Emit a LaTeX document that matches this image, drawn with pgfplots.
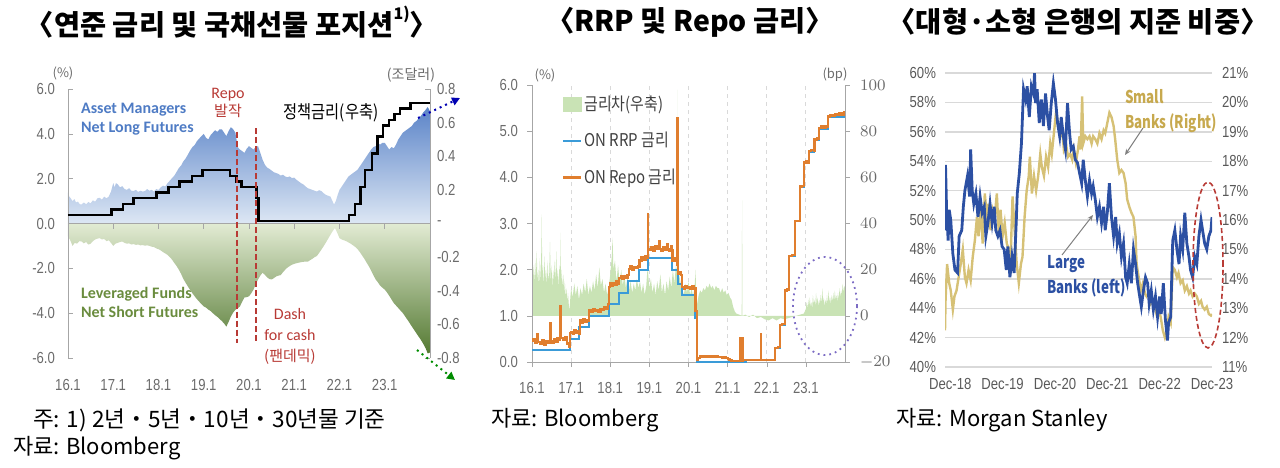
\documentclass[border=0pt]{standalone}
\usepackage{fontspec}
\setmainfont{Liberation Sans}
\newfontfamily\kr{Noto Sans CJK KR}
\newfontfamily\krn{Noto Sans CJK KR}[FakeStretch=0.85]
\newfontfamily\krc{Noto Sans CJK KR}[FakeStretch=0.76]
\newfontfamily\nar{Liberation Sans}[FakeStretch=0.82]
\newfontfamily\carl{Carlito}
\usepackage{pgfplots}
\pgfplotsset{compat=1.18}
\usetikzlibrary{arrows.meta}
\definecolor{amTop}{HTML}{5B84C8}
\definecolor{amBot}{HTML}{DDE7F4}
\definecolor{lfTop}{HTML}{E2EBD3}
\definecolor{lfBot}{HTML}{557A33}
\definecolor{dred}{HTML}{B83A35}
\definecolor{amtext}{HTML}{4E7BC4}
\definecolor{lftext}{HTML}{6A8C3E}
\definecolor{tickgray}{HTML}{6B6B6B}
\definecolor{axgray}{HTML}{A6A6A6}
\definecolor{rrpblue}{HTML}{3A9BD8}
\definecolor{repoorg}{HTML}{E07E2E}
\definecolor{sprgreen}{HTML}{C9E3B5}
\definecolor{lgdtext}{HTML}{404040}
\definecolor{ellpurple}{HTML}{7C6CC4}
\definecolor{lbblue}{HTML}{2C50A3}
\definecolor{sbtan}{HTML}{D6C176}
\definecolor{sbtext}{HTML}{C7A94E}
\definecolor{gridgray}{HTML}{D9D9D9}
\pgfplotsset{
  tl/.style={font=\nar\fontsize{8}{9}\selectfont, text=tickgray},
}
\begin{document}
\begin{tikzpicture}
\useasboundingbox (0,0) rectangle (640pt,233.5pt);

% ================= Panel 1 =================
\begin{axis}[at={(34pt,54.5pt)}, anchor=south west, scale only axis,
  width=181pt, height=134.5pt, xmin=0, xmax=8, ymin=-0.8, ymax=0.8,
  axis y line*=right, axis x line=none,
  y axis line style={-, draw=axgray}, ytick style={draw=axgray},
  tick align=inside, major tick length=2.5pt,
  ytick={-0.8,-0.6,-0.4,-0.2,0,0.2,0.4,0.6,0.8},
  yticklabels={-0.8,-0.6,-0.4,-0.2,-,0.2,0.4,0.6,0.8},
  yticklabel style={tl}]
\addplot[draw=none, top color=amTop, bottom color=amBot] coordinates {
(0.00,0) (0.00,0.183) (0.03,0.160) (0.06,0.150) (0.10,0.133) (0.14,0.145) (0.18,0.125) (0.22,0.130) (0.26,0.115) (0.30,0.113)
(0.35,0.125) (0.40,0.115) (0.45,0.128) (0.50,0.120) (0.55,0.138) (0.60,0.130) (0.65,0.150) (0.70,0.153) (0.75,0.142) (0.80,0.160)
(0.85,0.150) (0.90,0.160) (0.95,0.190) (1.00,0.240) (1.03,0.215) (1.06,0.240) (1.10,0.233) (1.15,0.215) (1.20,0.222) (1.25,0.205)
(1.30,0.200) (1.35,0.210) (1.40,0.195) (1.45,0.193) (1.50,0.200) (1.55,0.188) (1.60,0.195) (1.65,0.190) (1.70,0.193) (1.75,0.205)
(1.80,0.195) (1.85,0.200) (1.90,0.190) (1.95,0.205) (2.00,0.200) (2.05,0.215) (2.10,0.225) (2.15,0.220) (2.20,0.240) (2.25,0.255)
(2.30,0.270) (2.35,0.285) (2.40,0.307) (2.45,0.330) (2.50,0.345) (2.55,0.370) (2.60,0.387) (2.65,0.410) (2.70,0.435) (2.75,0.455)
(2.80,0.467) (2.85,0.490) (2.90,0.505) (2.95,0.520) (3.00,0.533) (3.05,0.510) (3.10,0.500) (3.15,0.525) (3.20,0.540) (3.25,0.555)
(3.30,0.545) (3.35,0.560) (3.40,0.560) (3.45,0.540) (3.50,0.520) (3.55,0.550) (3.60,0.573) (3.65,0.560) (3.70,0.540) (3.73,0.490)
(3.76,0.450) (3.80,0.440) (3.85,0.430) (3.90,0.420) (3.95,0.445) (4.00,0.460) (4.05,0.450) (4.10,0.440) (4.15,0.455) (4.20,0.460)
(4.25,0.420) (4.30,0.380) (4.35,0.350) (4.40,0.333) (4.45,0.325) (4.50,0.315) (4.55,0.305) (4.60,0.300) (4.65,0.295) (4.70,0.285)
(4.75,0.290) (4.80,0.280) (4.85,0.275) (4.90,0.280) (4.95,0.270) (5.00,0.273) (5.05,0.260) (5.10,0.250) (5.15,0.240) (5.20,0.233)
(5.25,0.220) (5.30,0.210) (5.35,0.205) (5.40,0.200) (5.45,0.195) (5.50,0.190) (5.55,0.198) (5.60,0.193) (5.65,0.180) (5.70,0.170)
(5.75,0.165) (5.80,0.160) (5.85,0.130) (5.88,0.113) (5.92,0.135) (5.96,0.170) (6.00,0.200) (6.05,0.220) (6.10,0.240) (6.15,0.260)
(6.20,0.280) (6.25,0.290) (6.30,0.300) (6.35,0.310) (6.40,0.320) (6.45,0.340) (6.50,0.360) (6.55,0.380) (6.60,0.400) (6.65,0.420)
(6.70,0.440) (6.75,0.455) (6.80,0.460) (6.85,0.475) (6.90,0.470) (6.95,0.480) (7.00,0.480) (7.05,0.460) (7.10,0.440) (7.15,0.455)
(7.20,0.447) (7.25,0.470) (7.30,0.500) (7.35,0.520) (7.40,0.540) (7.45,0.550) (7.50,0.560) (7.55,0.570) (7.60,0.580) (7.65,0.600)
(7.70,0.610) (7.75,0.625) (7.80,0.640) (7.85,0.660) (7.90,0.675) (7.95,0.693) (8.00,0.667) (8.00,0)} -- cycle;
\addplot[draw=none, top color=lfTop, bottom color=lfBot] coordinates {
(0.00,0) (0.00,-0.076) (0.05,-0.100) (0.10,-0.133) (0.15,-0.115) (0.20,-0.120) (0.25,-0.105) (0.30,-0.107) (0.35,-0.118) (0.40,-0.110)
(0.45,-0.125) (0.50,-0.120) (0.55,-0.105) (0.60,-0.095) (0.65,-0.090) (0.70,-0.087) (0.75,-0.095) (0.80,-0.092) (0.85,-0.105) (0.90,-0.100)
(0.95,-0.115) (1.00,-0.133) (1.05,-0.120) (1.10,-0.115) (1.15,-0.110) (1.20,-0.107) (1.25,-0.115) (1.30,-0.120) (1.35,-0.118) (1.40,-0.125)
(1.45,-0.122) (1.50,-0.127) (1.55,-0.125) (1.60,-0.130) (1.65,-0.128) (1.70,-0.132) (1.75,-0.130) (1.80,-0.133) (1.85,-0.138) (1.90,-0.140)
(1.95,-0.148) (2.00,-0.153) (2.05,-0.160) (2.10,-0.170) (2.15,-0.178) (2.20,-0.187) (2.25,-0.200) (2.30,-0.215) (2.35,-0.235) (2.40,-0.253)
(2.45,-0.275) (2.50,-0.300) (2.55,-0.330) (2.60,-0.353) (2.65,-0.375) (2.70,-0.395) (2.75,-0.415) (2.80,-0.433) (2.85,-0.450) (2.90,-0.465)
(2.95,-0.480) (3.00,-0.493) (3.05,-0.500) (3.10,-0.512) (3.15,-0.520) (3.20,-0.533) (3.25,-0.545) (3.30,-0.555) (3.35,-0.568) (3.40,-0.580)
(3.45,-0.595) (3.50,-0.613) (3.55,-0.585) (3.60,-0.553) (3.65,-0.530) (3.70,-0.513) (3.75,-0.505) (3.80,-0.493) (3.85,-0.465) (3.90,-0.440)
(3.95,-0.438) (4.00,-0.433) (4.05,-0.415) (4.10,-0.393) (4.15,-0.360) (4.20,-0.333) (4.25,-0.310) (4.30,-0.293) (4.35,-0.305) (4.40,-0.320)
(4.45,-0.330) (4.50,-0.333) (4.55,-0.325) (4.60,-0.315) (4.65,-0.310) (4.70,-0.307) (4.75,-0.290) (4.80,-0.275) (4.85,-0.262) (4.90,-0.253)
(4.95,-0.245) (5.00,-0.240) (5.05,-0.236) (5.10,-0.233) (5.15,-0.230) (5.20,-0.228) (5.25,-0.226) (5.30,-0.227) (5.35,-0.218) (5.40,-0.210)
(5.45,-0.200) (5.50,-0.193) (5.55,-0.175) (5.60,-0.155) (5.65,-0.135) (5.70,-0.113) (5.75,-0.090) (5.80,-0.067) (5.85,-0.045) (5.90,-0.027)
(5.95,-0.055) (6.00,-0.087) (6.05,-0.095) (6.10,-0.100) (6.15,-0.105) (6.20,-0.113) (6.25,-0.120) (6.30,-0.130) (6.35,-0.140) (6.40,-0.153)
(6.45,-0.170) (6.50,-0.190) (6.55,-0.210) (6.60,-0.233) (6.65,-0.255) (6.70,-0.280) (6.75,-0.308) (6.80,-0.333) (6.85,-0.350) (6.90,-0.370)
(6.95,-0.382) (7.00,-0.393) (7.05,-0.410) (7.10,-0.430) (7.15,-0.452) (7.20,-0.473) (7.25,-0.488) (7.30,-0.503) (7.35,-0.518) (7.40,-0.533)
(7.45,-0.552) (7.50,-0.572) (7.55,-0.592) (7.60,-0.613) (7.65,-0.633) (7.70,-0.653) (7.75,-0.673) (7.80,-0.693) (7.85,-0.715) (7.90,-0.740)
(7.95,-0.773) (8.00,-0.767) (8.00,0)} -- cycle;
\end{axis}

\begin{axis}[at={(34pt,54.5pt)}, anchor=south west, scale only axis,
  width=181pt, height=134.5pt, xmin=0, xmax=8, ymin=-6, ymax=6,
  axis y line*=left, axis x line*=bottom,
  x axis line style={draw=none}, xtick style={draw=none},
  y axis line style={-, draw=axgray}, ytick style={draw=axgray},
  tick align=inside, major tick length=2.5pt,
  xtick={0,...,7}, xticklabels={16.1,17.1,18.1,19.1,20.1,21.1,22.1,23.1},
  xticklabel style={tl, yshift=-7pt},
  ytick={-6,-4,-2,0,2,4,6}, yticklabels={-6.0,-4.0,-2.0,0.0,2.0,4.0,6.0},
  yticklabel style={tl, xshift=-3pt}]
\draw[axgray] (axis cs:0,0) -- (axis cs:8,0);
\pgfplotsinvokeforeach{1,...,7}{\draw[axgray] (axis cs:#1,0) -- ++(0pt,-2.5pt);}
\addplot[const plot, black, line width=1.2pt] coordinates {
(0,0.375) (0.96,0.625) (1.21,0.875) (1.45,1.125) (1.96,1.375) (2.22,1.625) (2.46,1.875) (2.74,2.125) (2.97,2.375)
(3.58,2.125) (3.72,1.875) (3.83,1.625) (4.17,1.125) (4.21,0.125) (6.21,0.375) (6.34,0.875) (6.46,1.625) (6.57,2.375)
(6.72,3.125) (6.84,3.875) (6.96,4.375) (7.09,4.625) (7.22,4.875) (7.34,5.125) (7.57,5.375) (8.0,5.375)};
\draw[dred, line width=1pt, dash pattern=on 3pt off 1.5pt] (axis cs:3.73,4.1) -- (axis cs:3.73,-5.35);
\draw[dred, line width=1pt, dash pattern=on 3pt off 1.5pt] (axis cs:4.15,4.25) -- (axis cs:4.15,-5.35);
\end{axis}

% Panel 1 annotations
\node[font=\kr\fontsize{6.5}{7}\selectfont, text=tickgray] at (31.5pt,197pt) {(\%)};
\node[font=\kr\fontsize{7}{8}\selectfont, text=tickgray] at (205.5pt,196pt) {(조달러)};
\node[anchor=west, font=\carl\bfseries\fontsize{8}{9.5}\selectfont, text=amtext, align=left] at (37pt,174pt) {Asset Managers\\Net Long Futures};
\node[anchor=west, font=\carl\bfseries\fontsize{8}{9.5}\selectfont, text=lftext, align=left] at (37pt,82.5pt) {Leveraged Funds\\Net Short Futures};
\node[font=\carl\fontsize{8}{9}\selectfont, text=dred, align=center] at (114pt,182pt) {Repo\\{\kr\fontsize{7.5}{8}\selectfont 발작}};
\node[font=\carl\fontsize{8}{10.5}\selectfont, text=dred, align=center] at (145pt,65.5pt) {Dash\\for cash\\{\kr\fontsize{7.5}{9}\selectfont (팬데믹)}};
\node[font=\krn\fontsize{9}{10}\selectfont, text=black] at (165.5pt,177pt) {정책금리(우축)};
\draw[blue!70!black, dotted, line width=1pt, -{Triangle[length=4pt,width=4pt]}] (209pt,174.5pt) -- (230pt,184.5pt);
\draw[green!55!black, dotted, line width=1pt, -{Triangle[length=4pt,width=4pt]}] (208.5pt,58.5pt) -- (227.5pt,43.5pt);

% ================= Panel 2 =================
\begin{axis}[at={(266pt,52.5pt)}, anchor=south west, scale only axis,
  width=156.5pt, height=138.5pt, xmin=0, xmax=8, ymin=-20, ymax=100,
  axis y line*=right, axis x line*=bottom,
  x axis line style={draw=none}, xtick style={draw=none},
  xtick={1,...,7}, xticklabels={}, xmajorgrids,
  major x grid style={gridgray, dash pattern=on 2pt off 2pt, line width=0.4pt},
  y axis line style={-, draw=axgray}, ytick style={draw=axgray},
  tick align=outside, major tick length=2.5pt,
  ytick={-20,0,20,40,60,80,100},
  yticklabel style={tl, xshift=1.5pt}]
\addplot[fill=sprgreen, draw=none] coordinates {
(0.00,0) (0.00,20) (0.02,12) (0.04,22) (0.06,14) (0.08,24) (0.10,16) (0.12,28) (0.14,15) (0.16,20) (0.18,12) (0.20,25) (0.22,14)
(0.24,30) (0.25,44) (0.26,18) (0.28,22) (0.30,12) (0.32,26) (0.34,16) (0.36,20) (0.38,13) (0.40,24) (0.42,15) (0.44,18) (0.46,32)
(0.48,14) (0.50,22) (0.52,12) (0.54,20) (0.56,15) (0.58,24) (0.60,14) (0.62,28) (0.64,16) (0.66,20) (0.68,12) (0.70,22) (0.72,18)
(0.73,36) (0.74,14) (0.76,20) (0.78,12) (0.80,18) (0.82,10) (0.84,15) (0.86,8) (0.88,12) (0.90,6) (0.92,10) (0.94,5) (0.96,2)
(0.98,8) (1.00,12) (1.04,8) (1.08,14) (1.12,9) (1.16,13) (1.20,7) (1.24,12) (1.28,9) (1.32,14) (1.36,10) (1.40,16) (1.44,9)
(1.48,13) (1.52,10) (1.56,15) (1.60,11) (1.64,18) (1.68,12) (1.72,21) (1.76,13) (1.80,16) (1.84,10) (1.88,14) (1.92,9) (1.96,12)
(2.00,18) (2.04,26) (2.06,34) (2.08,20) (2.12,24) (2.16,15) (2.20,22) (2.24,14) (2.28,20) (2.32,13) (2.36,18) (2.40,12) (2.44,17)
(2.48,11) (2.52,15) (2.56,10) (2.60,14) (2.64,11) (2.68,16) (2.72,12) (2.76,15) (2.80,10) (2.84,14) (2.88,9) (2.92,13) (2.95,20)
(2.96,45) (2.97,18) (3.00,12) (3.04,16) (3.08,10) (3.12,14) (3.16,9) (3.20,15) (3.24,11) (3.28,18) (3.32,10) (3.36,14) (3.40,9)
(3.44,15) (3.48,11) (3.52,17) (3.56,12) (3.60,20) (3.64,14) (3.68,22) (3.70,18) (3.71,98) (3.72,16) (3.76,18) (3.80,14) (3.84,12)
(3.88,9) (3.92,14) (3.96,10) (4.00,15) (4.04,9) (4.08,12) (4.12,8) (4.16,14) (4.18,20) (4.20,6) (4.22,5) (4.26,9) (4.30,11)
(4.34,10) (4.38,12) (4.42,11) (4.46,13) (4.50,12) (4.54,14) (4.58,12) (4.62,13) (4.66,11) (4.70,13) (4.74,12) (4.78,12) (4.82,10)
(4.86,12) (4.90,10) (4.94,11) (4.98,9) (5.02,10) (5.06,8) (5.10,7) (5.14,4) (5.18,2) (5.22,1) (5.30,0.5) (5.36,0) (5.37,50)
(5.38,0) (5.45,0.5) (5.55,-0.5) (5.65,0.5) (5.75,-1) (5.85,-0.5) (5.95,-1.5) (6.05,-2) (6.15,-1) (6.25,-2) (6.35,-1) (6.45,-1.5)
(6.55,-1) (6.65,-0.5) (6.75,0) (6.85,0.5) (6.95,1) (7.00,3) (7.02,6) (7.04,3) (7.06,7) (7.08,4) (7.10,8) (7.12,4) (7.14,6)
(7.16,3) (7.18,9) (7.20,5) (7.22,7) (7.24,4) (7.26,10) (7.28,5) (7.30,8) (7.32,4) (7.34,7) (7.36,5) (7.38,9) (7.40,5) (7.42,12)
(7.44,6) (7.46,8) (7.48,4) (7.50,7) (7.52,5) (7.54,9) (7.56,5) (7.58,11) (7.60,6) (7.62,8) (7.64,5) (7.66,9) (7.68,6) (7.70,10)
(7.72,6) (7.74,11) (7.76,7) (7.78,9) (7.80,6) (7.82,10) (7.84,7) (7.86,12) (7.88,8) (7.90,11) (7.92,9) (7.94,14) (7.96,10)
(7.98,13) (8.00,12) (8.00,0)} -- cycle;
\end{axis}

\begin{axis}[at={(266pt,52.5pt)}, anchor=south west, scale only axis,
  width=156.5pt, height=138.5pt, xmin=0, xmax=8, ymin=0, ymax=6,
  axis y line*=left, axis x line*=bottom,
  axis line style={-, draw=axgray}, tick style={draw=axgray},
  tick align=outside, major tick length=2.5pt,
  xtick={0,...,7}, xticklabels={16.1,17.1,18.1,19.1,20.1,21.1,22.1,23.1},
  xticklabel style={tl, yshift=-4pt},
  ytick={0,...,6}, yticklabels={0.0,1.0,2.0,3.0,4.0,5.0,6.0},
  yticklabel style={tl, xshift=-1pt},
  legend style={at={(0.075,0.985)}, anchor=north west, draw=none, fill=none,
    font=\krn\fontsize{8.8}{10}\selectfont, text=lgdtext, row sep=7.5pt,
    nodes={inner sep=1pt}},
  legend cell align=left]
\addlegendimage{legend image code/.code={\fill[sprgreen] (0pt,-3.5pt) rectangle (9pt,3.5pt);}}
\addlegendentry{금리차(우축)}
\addlegendimage{legend image code/.code={\draw[rrpblue, line width=1.2pt] (0pt,0pt) -- (9pt,0pt);}}
\addlegendentry{ON RRP 금리}
\addlegendimage{legend image code/.code={\draw[repoorg, line width=1.2pt] (0pt,0pt) -- (9pt,0pt);}}
\addlegendentry{ON Repo 금리}
\addplot[forget plot, const plot, rrpblue, line width=1pt] coordinates {
(0,0.25) (0.96,0.50) (1.21,0.75) (1.45,1.00) (1.96,1.25) (2.22,1.50) (2.46,1.75) (2.74,2.00) (2.97,2.25) (3.58,2.00)
(3.72,1.70) (3.83,1.45) (4.17,0.95) (4.21,0.00) (5.46,0.05) (6.21,0.30) (6.34,0.80) (6.46,1.55) (6.57,2.30) (6.72,3.05)
(6.84,3.80) (6.96,4.30) (7.09,4.55) (7.22,4.80) (7.34,5.05) (7.57,5.30) (8.0,5.30)};
\addplot[forget plot, const plot, repoorg, line width=1.1pt] coordinates {
(0.00,0.45) (0.04,0.50) (0.08,0.42) (0.12,0.60) (0.14,0.43) (0.20,0.40) (0.25,0.48) (0.30,0.38) (0.35,0.45) (0.40,0.42)
(0.45,0.47) (0.46,0.85) (0.48,0.45) (0.52,0.42) (0.56,0.50) (0.60,0.44) (0.65,0.52) (0.70,0.48) (0.72,0.55) (0.73,1.22)
(0.75,0.52) (0.80,0.48) (0.85,0.55) (0.90,0.40) (0.94,0.33) (0.97,0.62) (1.00,0.65) (1.04,0.60) (1.08,0.70) (1.12,0.62)
(1.16,0.68) (1.20,0.60) (1.22,0.90) (1.26,0.85) (1.30,0.92) (1.35,0.86) (1.40,0.90) (1.44,0.88) (1.46,1.12) (1.50,1.08)
(1.55,1.15) (1.60,1.10) (1.65,1.12) (1.70,1.08) (1.75,1.15) (1.80,1.12) (1.85,1.18) (1.90,1.15) (1.94,1.25) (1.97,1.62)
(2.00,1.70) (2.04,1.65) (2.08,1.72) (2.12,1.68) (2.16,1.75) (2.20,1.70) (2.23,1.82) (2.27,1.87) (2.31,1.80) (2.35,1.86)
(2.40,1.83) (2.44,1.88) (2.47,2.02) (2.52,2.07) (2.56,2.00) (2.60,2.06) (2.65,2.03) (2.70,2.08) (2.73,2.05) (2.75,2.20)
(2.80,2.28) (2.85,2.22) (2.90,2.30) (2.94,2.25) (2.96,3.20) (2.97,2.45) (3.00,2.42) (3.05,2.48) (3.10,2.40) (3.15,2.50)
(3.20,2.45) (3.25,2.62) (3.27,2.45) (3.30,2.40) (3.35,2.48) (3.40,2.42) (3.45,2.55) (3.47,2.45) (3.50,2.40) (3.55,2.50)
(3.57,2.42) (3.59,2.20) (3.63,2.18) (3.67,2.25) (3.70,2.20) (3.71,5.28) (3.72,2.10) (3.73,1.90) (3.77,1.95) (3.81,1.88)
(3.84,1.63) (3.88,1.58) (3.92,1.65) (3.96,1.60) (4.00,1.62) (4.05,1.58) (4.10,1.65) (4.15,1.60) (4.18,1.10) (4.21,0.05)
(4.25,0.08) (4.30,0.12) (4.35,0.10) (4.40,0.12) (4.45,0.10) (4.50,0.13) (4.55,0.11) (4.60,0.12) (4.65,0.10) (4.70,0.12)
(4.75,0.10) (4.80,0.11) (4.85,0.09) (4.90,0.10) (4.95,0.08) (5.00,0.07) (5.05,0.05) (5.10,0.03) (5.15,0.02) (5.31,0.02)
(5.32,0.52) (5.33,0.03) (5.39,0.52) (5.40,0.05) (5.84,0.05) (5.85,0.60) (5.86,0.05) (6.21,0.30) (6.28,0.32) (6.34,0.80)
(6.40,0.82) (6.46,1.55) (6.52,1.57) (6.57,2.30) (6.65,2.32) (6.70,2.31) (6.72,3.05) (6.78,3.06) (6.82,3.05) (6.84,3.80)
(6.90,3.82) (6.94,3.81) (6.96,4.32) (7.00,4.35) (7.05,4.31) (7.08,4.33) (7.09,4.57) (7.14,4.60) (7.20,4.58) (7.22,4.82)
(7.28,4.85) (7.32,4.83) (7.34,5.07) (7.40,5.10) (7.46,5.08) (7.52,5.12) (7.55,5.09) (7.57,5.32) (7.62,5.35) (7.68,5.33)
(7.74,5.38) (7.80,5.35) (7.86,5.40) (7.92,5.36) (7.97,5.42) (8.00,5.38)};
\end{axis}
\node[font=\kr\fontsize{6.5}{7}\selectfont, text=tickgray] at (272.5pt,196pt) {(\%)};
\node[font=\kr\fontsize{6.5}{7}\selectfont, text=tickgray] at (417.5pt,196pt) {(bp)};
\draw[ellpurple, dotted, line width=0.9pt] (412.5pt,80.5pt) ellipse (16pt and 24.5pt);

% ================= Panel 3 =================
\begin{axis}[at={(472.5pt,50pt)}, anchor=south west, scale only axis,
  width=133.5pt, height=147pt, xmin=-0.1, xmax=5.0, ymin=11, ymax=21,
  axis y line*=right, axis x line=none,
  y axis line style={draw=none}, ytick style={draw=none},
  ymajorgrids, major y grid style={gridgray, line width=0.7pt},
  ytick={11,...,21},
  yticklabels={11\%,12\%,13\%,14\%,15\%,16\%,17\%,18\%,19\%,20\%,21\%},
  yticklabel style={tl, text=black!65, xshift=1.5pt}]
\addplot[sbtan, line width=1.2pt] coordinates {
(-0.10,12.25) (-0.09,13.25) (-0.06,14.5) (-0.02,13.85) (0.01,13.6) (0.05,12.95) (0.08,13.4) (0.12,13.6) (0.16,14.05)
(0.20,14.5) (0.24,15.0) (0.28,14.05) (0.31,13.85) (0.35,14.3) (0.39,13.95) (0.43,14.75) (0.47,15.3) (0.51,16.1)
(0.54,15.45) (0.58,16.35) (0.62,15.2) (0.66,16.9) (0.70,16.1) (0.73,16.55) (0.77,15.65) (0.81,16.35) (0.85,16.1)
(0.89,16.9) (0.93,15.45) (0.96,16.35) (1.00,15.45) (1.04,15.9) (1.08,15.2) (1.12,15.0) (1.15,14.5) (1.19,16.8)
(1.23,15.65) (1.27,14.5) (1.31,13.85) (1.35,14.5) (1.38,14.75) (1.42,16.1) (1.46,17.0) (1.50,17.5) (1.52,18.15)
(1.56,16.9) (1.60,17.5) (1.64,17.0) (1.68,17.5) (1.72,18.25) (1.75,17.8) (1.79,17.5) (1.83,18.15) (1.87,17.8)
(1.91,18.6) (1.94,18.25) (1.98,18.95) (2.02,19.65) (2.06,19.3) (2.10,18.85) (2.14,19.05) (2.17,18.4) (2.21,18.6)
(2.25,18.15) (2.29,18.25) (2.33,18.05) (2.36,18.4) (2.40,17.95) (2.44,18.4) (2.47,18.85) (2.49,18.4) (2.52,20.2)
(2.54,18.6) (2.58,18.85) (2.62,18.75) (2.66,18.85) (2.70,18.6) (2.73,18.85) (2.77,18.75) (2.81,18.6) (2.85,18.95)
(2.89,18.75) (2.93,19.05) (2.96,18.95) (3.00,19.3) (3.04,19.65) (3.08,19.5) (3.12,19.2) (3.15,18.75) (3.19,18.05)
(3.23,17.6) (3.27,17.7) (3.31,17.6) (3.35,17.25) (3.38,16.7) (3.42,16.45) (3.46,16.25) (3.50,16.1) (3.54,15.45)
(3.56,14.5) (3.60,14.05) (3.64,13.6) (3.68,13.85) (3.72,13.5) (3.75,13.4) (3.79,13.5) (3.83,13.15) (3.87,13.25)
(3.91,13.05) (3.94,12.8) (3.98,12.95) (4.02,12.7) (4.06,12.25) (4.10,12.0) (4.14,12.25) (4.17,12.7) (4.21,12.5)
(4.25,14.4) (4.29,14.3) (4.33,14.05) (4.36,14.2) (4.40,13.85) (4.44,13.95) (4.48,13.6) (4.52,13.75) (4.56,13.5)
(4.59,13.6) (4.63,13.4) (4.67,13.5) (4.71,13.4) (4.75,13.15) (4.79,13.25) (4.82,13.05) (4.86,12.95) (4.90,13.05)
(4.94,12.8) (4.98,12.75) (5.00,12.8)};
\end{axis}

\begin{axis}[at={(472.5pt,50pt)}, anchor=south west, scale only axis,
  width=133.5pt, height=147pt, xmin=-0.1, xmax=5.0, ymin=40, ymax=60,
  axis y line*=left, axis x line*=bottom,
  axis line style={draw=none}, tick style={draw=none},
  xtick={0,...,5}, xticklabels={Dec-18,Dec-19,Dec-20,Dec-21,Dec-22,Dec-23},
  xticklabel style={tl, text=black!65, yshift=-2pt},
  ytick={40,42,...,60},
  yticklabels={40\%,42\%,44\%,46\%,48\%,50\%,52\%,54\%,56\%,58\%,60\%},
  yticklabel style={tl, text=black!65, xshift=-1pt}]
\addplot[lbblue, line width=1.4pt] coordinates {
(-0.10,49.3) (-0.09,53.75) (-0.07,50.7) (-0.04,48.6) (-0.02,50.7) (0.01,50.0) (0.05,47.7) (0.09,46.6) (0.14,46.4)
(0.17,48.9) (0.22,49.3) (0.25,50.9) (0.28,52.0) (0.33,53.0) (0.37,51.6) (0.39,54.8) (0.42,52.0) (0.45,51.1) (0.49,51.8)
(0.53,50.2) (0.57,51.6) (0.61,50.5) (0.65,50.9) (0.68,48.9) (0.72,49.8) (0.76,51.1) (0.80,49.8) (0.84,50.9) (0.87,49.3)
(0.91,48.9) (0.95,49.3) (0.99,48.2) (1.03,48.0) (1.07,46.6) (1.10,48.2) (1.14,46.1) (1.18,47.5) (1.22,46.4) (1.26,49.8)
(1.28,51.8) (1.32,53.2) (1.36,55.2) (1.40,58.9) (1.44,58.2) (1.47,59.1) (1.51,57.0) (1.55,59.1) (1.59,58.6) (1.61,60.0)
(1.63,57.95) (1.66,58.9) (1.70,56.6) (1.74,58.2) (1.78,56.4) (1.82,58.6) (1.86,57.0) (1.89,56.1) (1.93,57.95) (1.97,59.3)
(2.01,58.2) (2.05,56.6) (2.09,55.7) (2.12,57.0) (2.16,55.7) (2.20,54.8) (2.24,57.95) (2.28,55.9) (2.31,54.8) (2.35,55.0)
(2.39,54.1) (2.43,53.9) (2.47,53.2) (2.51,52.5) (2.54,54.1) (2.58,52.7) (2.62,51.6) (2.66,52.7) (2.70,51.8) (2.73,52.3)
(2.77,51.4) (2.81,50.2) (2.85,50.9) (2.89,49.8) (2.93,50.9) (2.96,49.3) (3.00,50.5) (3.04,52.5) (3.08,50.2) (3.12,48.9)
(3.16,50.2) (3.19,48.4) (3.23,49.1) (3.27,47.5) (3.31,48.4) (3.35,46.1) (3.38,45.7) (3.42,47.0) (3.46,45.7) (3.50,48.0)
(3.54,47.0) (3.58,45.7) (3.61,45.0) (3.65,44.1) (3.69,45.2) (3.73,46.1) (3.77,45.7) (3.80,44.3) (3.84,45.2) (3.88,43.9)
(3.92,44.8) (3.96,43.4) (4.00,44.8) (4.03,43.6) (4.07,45.7) (4.11,43.2) (4.15,41.8) (4.17,43.0) (4.21,43.4) (4.25,48.6)
(4.29,49.3) (4.33,48.0) (4.37,47.0) (4.40,48.9) (4.44,48.0) (4.48,50.5) (4.52,48.4) (4.56,47.5) (4.59,46.6) (4.63,46.1)
(4.67,47.5) (4.71,47.0) (4.75,48.9) (4.79,50.0) (4.82,49.3) (4.86,48.4) (4.90,48.0) (4.94,48.9) (4.98,49.3) (5.00,50.2)};
\end{axis}
\node[anchor=west, font=\krc\bfseries\fontsize{8.8}{12.5}\selectfont, text=sbtext, align=left] at (559pt,178pt) {Small\\Banks (Right)};
\node[anchor=west, font=\krc\bfseries\fontsize{8.8}{12.5}\selectfont, text=lbblue, align=left] at (520pt,95.5pt) {Large\\Banks (left)};
\draw[gray, line width=0.5pt, -{Stealth[length=3pt,width=2.5pt]}] (571.5pt,169.5pt) -- (562.5pt,156pt);
\draw[gray, line width=0.5pt, -{Stealth[length=3pt,width=2.5pt]}] (531pt,106pt) -- (546.5pt,126pt);
\draw[dred, line width=0.8pt, dash pattern=on 2.5pt off 1.5pt] (604pt,101pt) ellipse (7.5pt and 41.5pt);

% ================= Titles and sources =================
\node[font=\kr\bfseries\fontsize{14.2}{15}\selectfont] at (116pt,222.5pt) {〈연준 금리 및 국채선물 포지션\raisebox{0.55em}{\fontsize{8}{8}\selectfont 1)}〉};
\node[font=\kr\bfseries\fontsize{14.2}{15}\selectfont] at (345pt,222.5pt) {〈RRP 및 Repo 금리〉};
\node[font=\kr\bfseries\fontsize{14.2}{15}\selectfont] at (539pt,222.5pt) {〈대형·소형 은행의 지준 비중〉};
\node[anchor=west, font=\kr\fontsize{11.3}{13}\selectfont] at (13pt,23.5pt) {주: 1) 2년・5년・10년・30년물 기준};
\node[anchor=west, font=\kr\fontsize{11}{13}\selectfont] at (3pt,9.5pt) {자료: Bloomberg};
\node[anchor=west, font=\kr\fontsize{11}{13}\selectfont] at (242pt,23.5pt) {자료: Bloomberg};
\node[anchor=west, font=\kr\fontsize{11}{13}\selectfont] at (444.5pt,23.5pt) {자료: Morgan Stanley};
\end{tikzpicture}
\end{document}
